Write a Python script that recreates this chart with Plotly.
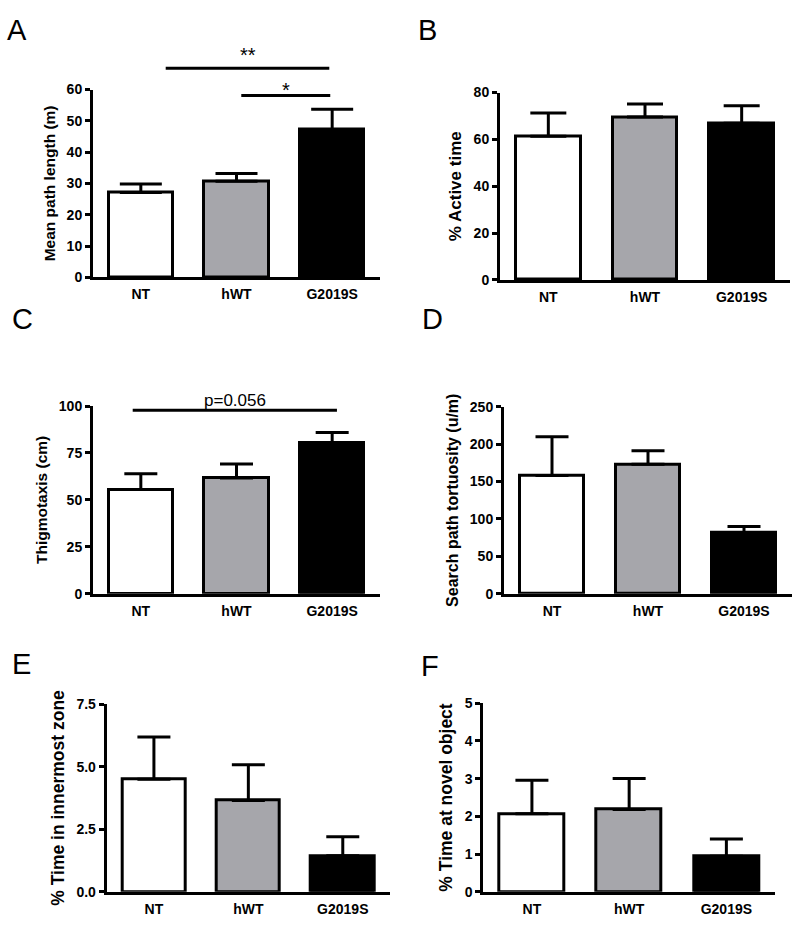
import plotly.graph_objects as go

# ---------------- data ----------------
categories = ["NT", "hWT", "G2019S"]

path_length_mean = [27.1, 30.7, 47.2]
path_length_sem = [2.7, 2.5, 6.5]

active_time_mean = [61.3, 69.5, 66.9]
active_time_sem = [10.0, 5.6, 7.5]

thigmotaxis_mean = [55.5, 61.6, 80.3]
thigmotaxis_sem = [8.4, 7.5, 5.6]

tortuosity_mean = [158, 173, 81]
tortuosity_sem = [52, 18, 9]

innermost_mean = [4.5, 3.65, 1.44]
innermost_sem = [1.69, 1.43, 0.76]

novel_object_mean = [2.07, 2.18, 0.94]
novel_object_sem = [0.89, 0.82, 0.46]

# significance brackets: (label, x_start, x_end, line_y, label_y) in data units
sig_A = [("**", 0.26, 1.97, 66.8, 71.0), ("*", 1.05, 1.98, 58.1, 60.0)]
sig_C = [("p=0.056", -0.085, 2.05, 97.7, 103.1)]

# ---------------- style ----------------
W, H = 800, 931
bar_colors = ["#ffffff", "#a6a6ab", "#000000"]
FONT = "Liberation Sans, Arial, Helvetica, sans-serif"
XR = [-0.5, 2.5]

panels = [
    dict(letter="A", mean=path_length_mean, sem=path_length_sem, title="Mean path length (m)",
         ymax=60, dtick=10, fmt="d", box=(93, 380, 83, 274), tsize=15.5, cap=21,
         lxy=(17, 22.5), sig=sig_A, sigsize=20),
    dict(letter="B", mean=active_time_mean, sem=active_time_sem, title="% Active time",
         ymax=80, dtick=20, fmt="d", box=(500, 790, 86, 276.7), tsize=17, cap=18,
         lxy=(427.5, 22.5), sig=[], sigsize=20),
    dict(letter="C", mean=thigmotaxis_mean, sem=thigmotaxis_sem, title="Thigmotaxis (cm)",
         ymax=100, dtick=25, fmt="d", box=(93, 380, 405, 596), tsize=15.5, cap=16.5,
         lxy=(22, 316), sig=sig_C, sigsize=17),
    dict(letter="D", mean=tortuosity_mean, sem=tortuosity_sem, title="Search path tortuosity (u/m)",
         ymax=250, dtick=50, fmt="d", box=(504, 792, 405.7, 596), tsize=16, cap=16.5,
         lxy=(432, 316), sig=[], sigsize=20),
    dict(letter="E", mean=innermost_mean, sem=innermost_sem, title="% Time in innermost zone",
         ymax=7.5, dtick=2.5, fmt=".1f", box=(106.7, 390, 708.3, 899.3), tsize=17.5, cap=16.5,
         lxy=(21, 667), sig=[], sigsize=20),
    dict(letter="F", mean=novel_object_mean, sem=novel_object_sem, title="% Time at novel object",
         ymax=5, dtick=1, fmt="d", box=(483.3, 775, 707.3, 899.3), tsize=17.5, cap=16.5,
         lxy=(429.5, 670), sig=[], sigsize=20),
]

fig = go.Figure()
shapes = []
annotations = []

for i, p in enumerate(panels, start=1):
    sx = "" if i == 1 else str(i)
    x0, x1, ytop, ybot = p["box"]
    fig.add_trace(go.Bar(
        x=categories, y=p["mean"], width=0.67,
        marker=dict(color=bar_colors, line=dict(color="black", width=3)),
        error_y=dict(type="data", array=p["sem"], arrayminus=[0] * len(p["sem"]),
                     symmetric=False, color="black", thickness=3, width=p["cap"]),
        xaxis="x" + sx, yaxis="y" + sx, showlegend=False, hoverinfo="skip",
    ))
    fig.layout["xaxis" + sx] = dict(
        domain=[x0 / W, x1 / W], anchor="y" + sx, type="category", range=XR,
        showline=True, linewidth=3, linecolor="black", ticks="", showgrid=False,
        zeroline=False, ticklabelstandoff=2,
        tickfont=dict(family=FONT, size=14, color="black", weight="bold"),
    )
    fig.layout["yaxis" + sx] = dict(
        domain=[1 - ybot / H, 1 - ytop / H], anchor="x" + sx, range=[0, p["ymax"]],
        tick0=0, dtick=p["dtick"], tickformat=p["fmt"], ticks="outside", ticklen=5,
        tickwidth=3, tickcolor="black", showline=True, linewidth=3, linecolor="black",
        showgrid=False, zeroline=False,
        tickfont=dict(family=FONT, size=14, color="black", weight="bold"),
        title=dict(text=p["title"], standoff=8,
                   font=dict(family=FONT, size=p["tsize"], color="black", weight="bold")),
    )
    # panel letter
    annotations.append(dict(
        text=p["letter"], x=p["lxy"][0] / W, y=1 - p["lxy"][1] / H, xref="paper", yref="paper",
        xanchor="center", yanchor="middle", showarrow=False,
        font=dict(family=FONT, size=29, color="black"),
    ))
    # significance brackets
    span = XR[1] - XR[0]
    for label, xs, xe, ly, ty in p["sig"]:
        shapes.append(dict(
            type="line", xref="x" + sx + " domain", yref="y" + sx + " domain",
            x0=(xs - XR[0]) / span, x1=(xe - XR[0]) / span,
            y0=ly / p["ymax"], y1=ly / p["ymax"],
            line=dict(color="black", width=3),
        ))
        annotations.append(dict(
            text=label, xref="x" + sx + " domain", yref="y" + sx + " domain",
            x=((xs + xe) / 2 - XR[0]) / span,
            y=ty / p["ymax"], xanchor="center", yanchor="middle", showarrow=False,
            font=dict(family=FONT, size=p["sigsize"], color="black"),
        ))

fig.update_layout(
    width=W, height=H, margin=dict(l=0, r=0, t=0, b=0),
    paper_bgcolor="white", plot_bgcolor="white",
    shapes=shapes, annotations=annotations, bargap=0,
)

fig.write_html("out.html", config={"displayModeBar": False},
               post_script="document.body.style.margin='0px';")
